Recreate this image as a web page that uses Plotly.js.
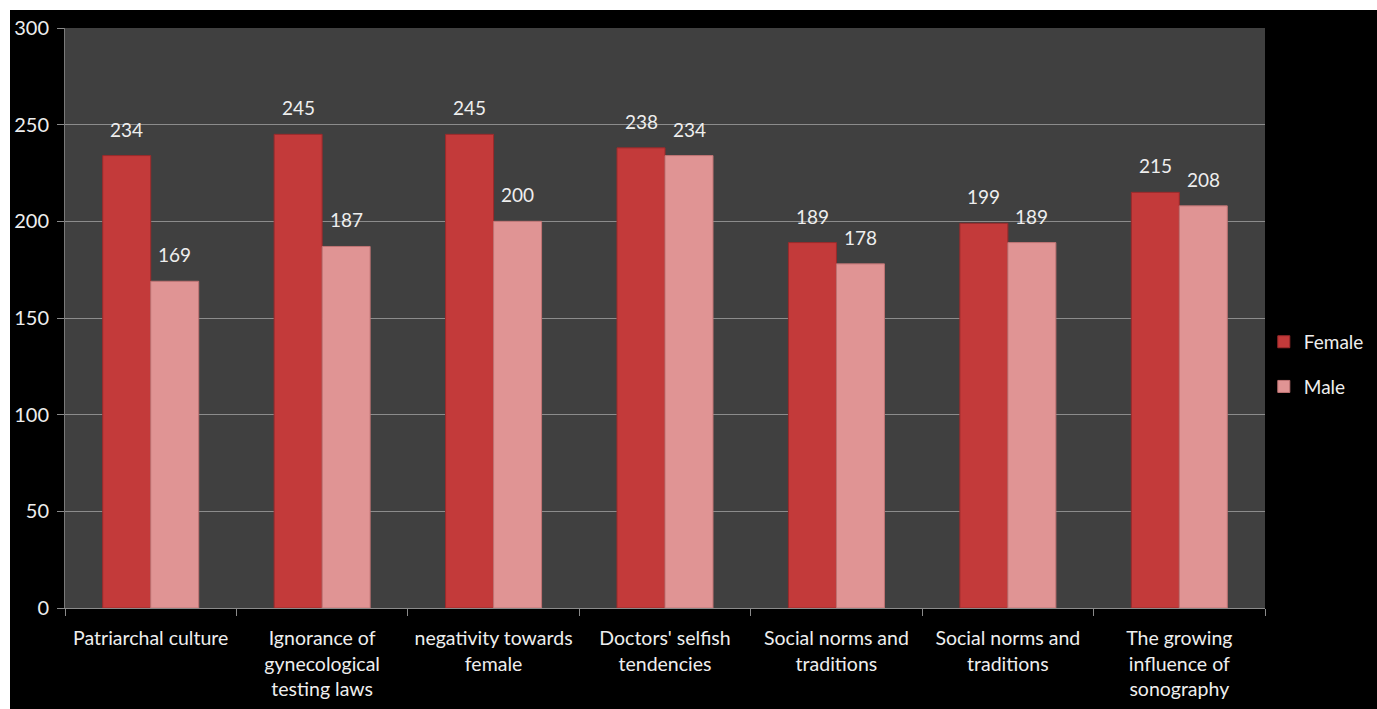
<!DOCTYPE html>
<html>
<head>
<meta charset="utf-8">
<script src="https://cdn.plot.ly/plotly-3.0.1.min.js"></script>
<style>
  html, body { margin: 0; padding: 0; background: #ffffff; }
  #chart { position: absolute; left: 10px; top: 10px; width: 1367px; height: 699px; }
</style>
</head>
<body>
<div id="chart"></div>
<script>
const categories = [
  "Patriarchal culture",
  "Ignorance of<br>gynecological<br>testing laws",
  "negativity towards<br>female",
  "Doctors' selfish<br>tendencies",
  "Social norms and<br>traditions",
  "Social norms and<br>traditions",
  "The growing<br>influence of<br>sonography"
];
const female = [234, 245, 245, 238, 189, 199, 215];
const male = [169, 187, 200, 234, 178, 189, 208];
const yTicks = [0, 50, 100, 150, 200, 250, 300];

// unique keys so duplicate labels stay separate categories
const seen = {};
const keys = categories.map(c => {
  seen[c] = (seen[c] || 0) + 1;
  return c + "\u200b".repeat(seen[c] - 1);
});

const fontFam = "Lato, 'Open Sans', sans-serif";
const txtColor = "#eeeeee";

const traces = [
  {
    type: "bar", name: "Female", x: keys, y: female,
    legendgroup: "f",
    marker: { color: "#c33a3a", line: { color: "#9a2a2b", width: 1 } },
    hoverinfo: "y"
  },
  {
    type: "bar", name: "Male", x: keys, y: male,
    legendgroup: "m",
    marker: { color: "#e09494", line: { color: "#c07474", width: 1 } },
    hoverinfo: "y"
  }
];

const annotations = [];
keys.forEach((k, i) => {
  annotations.push({ x: k, y: female[i], text: String(female[i]), showarrow: false,
    xref: "x", yref: "y", yanchor: "bottom", xshift: -24, yshift: 13,
    font: { family: fontFam, size: 19, color: txtColor } });
  annotations.push({ x: k, y: male[i], text: String(male[i]), showarrow: false,
    xref: "x", yref: "y", yanchor: "bottom", xshift: 24, yshift: 13,
    font: { family: fontFam, size: 19, color: txtColor } });
});

const layout = {
  width: 1367, height: 699,
  paper_bgcolor: "#000000",
  plot_bgcolor: "#404040",
  margin: { l: 55, r: 112, t: 18, b: 101, autoexpand: false },
  barmode: "group",
  bargap: 0.44,
  bargroupgap: 0,
  font: { family: fontFam, color: txtColor, size: 19 },
  xaxis: {
    type: "category",
    tickvals: keys, ticktext: categories,
    tickson: "boundaries",
    ticks: "outside", ticklen: 7, tickcolor: "#8a8a8a",
    showline: true, linecolor: "#8a8a8a", linewidth: 1,
    showgrid: false,
    tickangle: 0,
    ticklabelstandoff: 13,
    tickfont: { family: fontFam, size: 19.5, color: txtColor },
    fixedrange: true
  },
  yaxis: {
    range: [0, 300],
    tickvals: yTicks,
    ticks: "outside", ticklen: 7, tickcolor: "#8a8a8a",
    showline: true, linecolor: "#7a7a7a", linewidth: 1,
    showgrid: true, gridcolor: "#8c8c8c", gridwidth: 1,
    zeroline: false,
    tickfont: { family: fontFam, size: 20, color: txtColor },
    ticklabelstandoff: 4,
    fixedrange: true
  },
  showlegend: true,
  legend: {
    x: 0.999, xanchor: "left", y: 0.42, yanchor: "middle",
    font: { family: fontFam, size: 19, color: txtColor },
    bgcolor: "rgba(0,0,0,0)",
    tracegroupgap: 17,
    itemwidth: 30
  },
  annotations: annotations
};

Plotly.newPlot("chart", traces, layout, { displayModeBar: false, staticPlot: true });
</script>
</body>
</html>
